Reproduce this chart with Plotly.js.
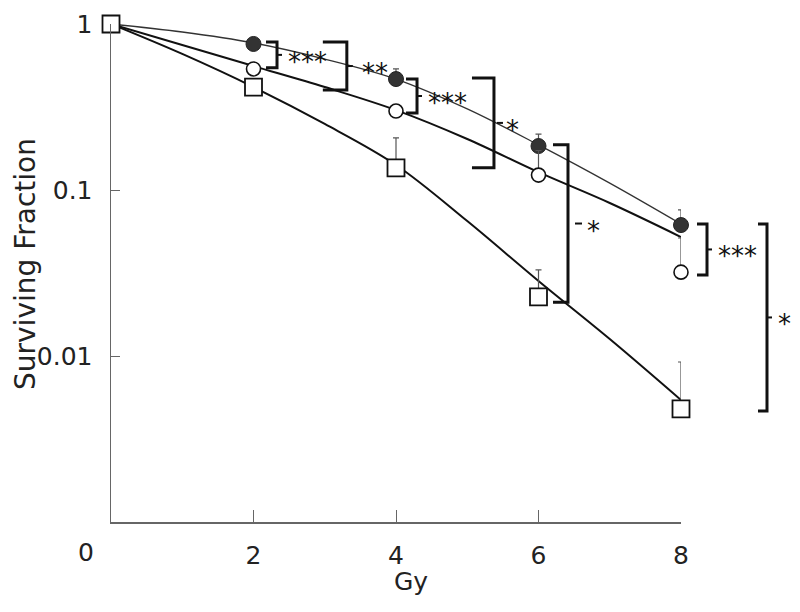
<!DOCTYPE html>
<html>
<head>
<meta charset="utf-8">
<script src="https://cdn.plot.ly/plotly-3.0.1.min.js"></script>
<style>html,body{margin:0;padding:0;background:#fff}#chart{width:800px;height:612px}</style>
</head>
<body>
<div id="chart"></div>
<script>
// ---- data ----
const doses = [0, 2, 4, 6, 8];
const sfFilled = [1, 0.758, 0.466, 0.184, 0.0615];
const sfOpen = [1, 0.536, 0.299, 0.123, 0.032];
const sfSquare = [1, 0.417, 0.136, 0.0227, 0.0048];
const errFilled = [0, 0.01, 0.07, 0.033, 0.0143];
const errOpen = [0, 0.01, 0.01, 0.05, 0.0194];
const errSquare = [0, 0.03, 0.07, 0.0103, 0.0044];

const fitDoses = [0, 1, 2, 3, 4, 5, 6, 7, 8];
const fitFilled = [1, 0.895, 0.769, 0.615, 0.466, 0.308, 0.187, 0.110, 0.0624];
const fitOpen = [1, 0.747, 0.558, 0.417, 0.303, 0.203, 0.128, 0.0835, 0.0521];
const fitSquare = [1, 0.660, 0.417, 0.250, 0.1415, 0.065, 0.0283, 0.01265, 0.00543];

const xTickVals = [2, 4, 6, 8];
const xTickText = ['2', '4', '6', '8'];
const yTickVals = [1, 0.1, 0.01];
const yTickText = ['1', '0.1', '0.01'];

// significance brackets: dose of vertical bar, top/bottom survival, label
const brackets = [
  {g: 2.33, top: 0.779, bottom: 0.545, label: '***'},
  {g: 3.31, top: 0.779, bottom: 0.400, label: '**'},
  {g: 4.295, top: 0.466, bottom: 0.291, label: '***'},
  {g: 5.375, top: 0.473, bottom: 0.136, label: '*'},
  {g: 6.414, top: 0.187, bottom: 0.0211, label: '*'},
  {g: 8.365, top: 0.0624, bottom: 0.0308, label: '***'},
  {g: 9.207, top: 0.0624, bottom: 0.00467, label: '*'}
];
// ---- styling / geometry ----
const stub = [11, 24, 11, 22, 15, 10, 9];       // px length of horizontal ends
const tickGap = [1, 1, 1, 3, 7, 1, 1];
const tickLen = [4, 5, 4, 6, 7, 4, 4];
const labelDx = [30, 28, 30, 19, 26, 30, 18];   // px from bar to label centre

const PW = 570, PH = 498;
const YMIN = -3, YMAX = 0;
const px = g => g / 8;
const py = v => (Math.log10(v) - YMIN) / (YMAX - YMIN);
const dpx = p => p / PW;

const shapes = [];
const annotations = [];
brackets.forEach((b, i) => {
  const x = px(b.g), y0 = py(b.top), y1 = py(b.bottom);
  const xs = x - dpx(stub[i]);
  shapes.push({type: 'path', xref: 'paper', yref: 'paper',
    path: `M ${xs} ${y0} L ${x} ${y0} L ${x} ${y1} L ${xs} ${y1}`,
    line: {color: '#111', width: 3}});
  const ym = (y0 + y1) / 2;
  shapes.push({type: 'line', xref: 'paper', yref: 'paper',
    x0: x + dpx(tickGap[i]), x1: x + dpx(tickGap[i] + tickLen[i]), y0: ym, y1: ym,
    line: {color: '#111', width: 2}});
  annotations.push({xref: 'paper', yref: 'paper', x: x + dpx(labelDx[i]), y: ym,
    text: b.label, showarrow: false, xanchor: 'center', yanchor: 'middle', yshift: -7,
    font: {family: 'DejaVu Sans', size: 26, color: '#111'}});
});

const FONT = 'DejaVu Sans';
annotations.push({xref: 'paper', yref: 'paper', x: dpx(86 - 111), y: (522 - 552) / PH,
  text: '0', showarrow: false, xanchor: 'center', yanchor: 'middle',
  font: {family: FONT, size: 25, color: '#222'}});
annotations.push({xref: 'paper', yref: 'paper', x: (411 - 111) / PW, y: (522 - 581) / PH,
  text: 'Gy', showarrow: false, xanchor: 'center', yanchor: 'middle',
  font: {family: FONT, size: 25, color: '#222'}});
annotations.push({xref: 'paper', yref: 'paper', x: (25 - 111) / PW, y: (522 - 264) / PH,
  text: 'Surviving Fraction', textangle: -90, showarrow: false, xanchor: 'center', yanchor: 'middle',
  font: {family: FONT, size: 28, color: '#222'}});

const errStyle = arr => ({type: 'data', symmetric: false, array: arr, arrayminus: arr.map(() => 0),
  color: '#555', thickness: 1.2, width: 3});

const traces = [
  {x: fitDoses, y: fitFilled, mode: 'lines', line: {color: '#333', width: 1.3, shape: 'spline'}, hoverinfo: 'skip'},
  {x: fitDoses, y: fitOpen, mode: 'lines', line: {color: '#111', width: 2, shape: 'spline'}, hoverinfo: 'skip'},
  {x: fitDoses, y: fitSquare, mode: 'lines', line: {color: '#111', width: 2, shape: 'spline'}, hoverinfo: 'skip'},
  {x: doses, y: sfFilled, mode: 'markers', error_y: errStyle(errFilled), cliponaxis: false,
    marker: {symbol: 'circle', size: 15, color: '#333', line: {color: '#222', width: 1}}},
  {x: doses, y: sfOpen, mode: 'markers', error_y: errStyle(errOpen), cliponaxis: false,
    marker: {symbol: 'circle', size: 14, color: '#fff', line: {color: '#111', width: 1.6}}},
  {x: doses, y: sfSquare, mode: 'markers', error_y: errStyle(errSquare), cliponaxis: false,
    marker: {symbol: 'square', size: 17, color: '#fff', line: {color: '#111', width: 1.8}}}
];

const layout = {
  width: 800, height: 612,
  margin: {l: 111, r: 119, t: 24, b: 90},
  paper_bgcolor: '#fff', plot_bgcolor: '#fff',
  showlegend: false,
  font: {family: FONT, color: '#222'},
  xaxis: {range: [0, 8], showgrid: false, zeroline: false, showline: true,
    linecolor: '#666', linewidth: 1.5, ticks: 'inside', ticklen: 12, tickwidth: 1, tickcolor: '#666',
    tickvals: xTickVals, ticktext: xTickText, tickfont: {family: FONT, size: 25, color: '#222'},
    ticklabelstandoff: 10},
  yaxis: {type: 'log', range: [YMIN, YMAX], showgrid: false, zeroline: false, showline: true,
    linecolor: '#666', linewidth: 1.5, ticks: 'inside', ticklen: 9, tickwidth: 1, tickcolor: '#666',
    tickvals: yTickVals, ticktext: yTickText, tickfont: {family: FONT, size: 25, color: '#222'},
    ticklabelstandoff: 12},
  shapes: shapes,
  annotations: annotations
};

Plotly.newPlot('chart', traces, layout, {displayModeBar: false, staticPlot: true});
</script>
</body>
</html>
